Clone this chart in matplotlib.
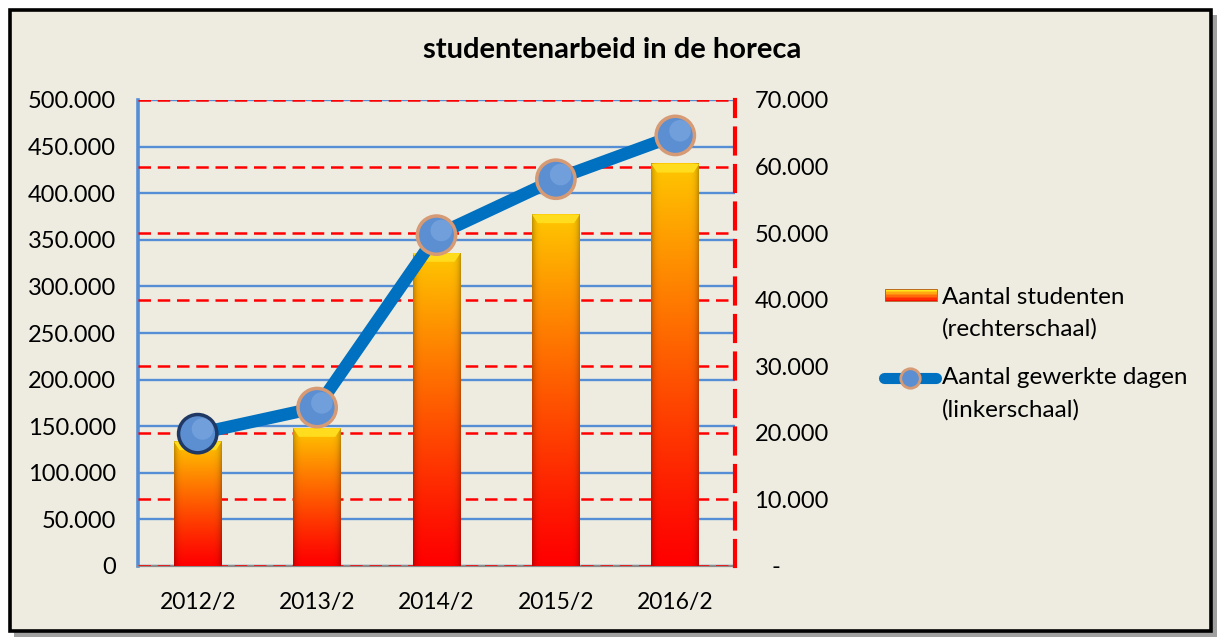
import numpy as np
import matplotlib.pyplot as plt
from matplotlib.patches import Rectangle, Polygon
from matplotlib.lines import Line2D

plt.rcParams["font.family"] = ["Lato", "DejaVu Sans"]

# data
periods = ["2012/2", "2013/2", "2014/2", "2015/2", "2016/2"]
students = [18700, 20700, 47000, 52800, 60400]        # right axis (bars)
days = [142000, 170000, 355000, 415000, 462000]        # left axis (line)
left_ticks = list(range(0, 500001, 50000))
right_ticks = list(range(0, 70001, 10000))

BG = "#EEECE1"
BLUE_GRID = "#558ED5"
LINE_BLUE = "#0070C0"
MARKER_FACE = "#5B8FD2"
COPPER = "#D69A74"
NAVY = "#1F3864"
FS = 17


def dot_fmt(v):
    return f"{v:,}".replace(",", ".")


fig = plt.figure(figsize=(12.2, 6.4), dpi=100)
fig.patch.set_facecolor("white")

# background canvas in pixel coordinates: frame, shadow and legend
bg = fig.add_axes([0, 0, 1, 1], zorder=0)
bg.set_xlim(0, 1220)
bg.set_ylim(640, 0)
bg.axis("off")
bg.add_patch(Rectangle((14, 15), 1203, 622, facecolor="#a0a0a0", edgecolor="none"))
bg.add_patch(Rectangle((9.5, 10), 1201.5, 621, facecolor=BG, edgecolor="black", lw=2.6))

# chart title
bg.text(612, 50, "studentenarbeid in de horeca", ha="center", va="center",
        fontsize=21, fontweight="bold")

rect = [138 / 1220, 74 / 640, 597 / 1220, 466 / 640]

# left axis: scale + blue gridlines
ax = fig.add_axes(rect, zorder=1)
ax.set_facecolor("none")
ax.set_xlim(-0.5, 4.5)
ax.set_ylim(0, 500000)
ax.set_yticks(left_ticks)
ax.set_yticklabels([dot_fmt(v) for v in left_ticks])
ax.set_xticks(range(len(periods)))
ax.set_xticklabels(periods)
ax.grid(axis="y", color=BLUE_GRID, lw=1.7)
ax.set_axisbelow(True)
for s in ["top", "right"]:
    ax.spines[s].set_visible(False)
ax.spines["left"].set_color(BLUE_GRID)
ax.spines["left"].set_linewidth(2.6)
ax.spines["bottom"].set_color("#8c8c8c")
ax.spines["bottom"].set_linewidth(1.6)
ax.tick_params(axis="y", length=0, pad=16, labelsize=FS)
ax.tick_params(axis="x", length=0, pad=19, labelsize=FS - 0.5)

# right axis: bars + red dashed gridlines
ax2 = ax.twinx()
ax2.set_ylim(0, 70000)
ax2.set_yticks(right_ticks)
ax2.set_yticklabels(["   -"] + [dot_fmt(v) for v in right_ticks[1:]])
ax2.grid(axis="y", color="#FF0000", lw=1.8, ls=(0, (5, 2.7)))
ax2.set_axisbelow(True)
for s in ["top", "left", "bottom"]:
    ax2.spines[s].set_visible(False)
ax2.spines["right"].set_color("#FF0000")
ax2.spines["right"].set_linewidth(3)
ax2.spines["right"].set_linestyle((0, (6, 3)))
ax2.tick_params(axis="y", length=0, pad=14, labelsize=FS)

bars = ax2.bar(range(len(periods)), students, width=0.4, color="none", zorder=2)

# vertical gradient (red bottom -> orange -> yellow top) with darker sides
t = np.linspace(0, 1, 200)[:, None]          # 0 bottom, 1 top
r = np.ones_like(t)
g = np.clip(0.78 * t ** 1.15, 0, 1)
b = np.zeros_like(t)
u = np.linspace(-1, 1, 60)[None, :]
shade = 1 - 0.25 * np.abs(u) ** 8
img = np.dstack([r * shade, g * shade, b * shade])[::-1]

for bar in bars:
    x0, w, h = bar.get_x(), bar.get_width(), bar.get_height()
    ax2.imshow(img, extent=[x0, x0 + w, 0, h], aspect="auto", zorder=2,
               interpolation="bilinear")
    dh = 1300
    dw = w * 0.12
    ax2.add_patch(Polygon([(x0, h), (x0 + w, h), (x0 + w - dw, h - dh), (x0 + dw, h - dh)],
                          closed=True, facecolor="#FFDD1E", edgecolor="none", zorder=3))
ax2.set_xlim(-0.5, 4.5)
ax2.set_ylim(0, 70000)

# top axis: the line with markers
ax3 = fig.add_axes(rect, sharex=ax, sharey=ax, zorder=3)
ax3.axis("off")
xs = np.arange(len(periods))
ax3.plot(xs, days, color=LINE_BLUE, lw=9, solid_capstyle="round", zorder=3)
edges = [NAVY] + [COPPER] * (len(periods) - 1)
ax3.scatter(xs, days, s=760, facecolor=MARKER_FACE, edgecolors=edges,
            linewidths=2.5, zorder=4)
ax3.scatter(xs + 0.04, np.array(days) + 5000, s=240, facecolor="#8DB4E6",
            edgecolors="none", alpha=0.45, zorder=5)

# legend
n = 8
for i in range(n):
    frac = i / (n - 1)
    col = (1.0, 0.85 * (1 - frac) + 0.05, 0.1 * (1 - frac))
    bg.add_patch(Rectangle((885, 289 + i * 12 / n), 52, 12 / n + 0.3,
                           facecolor=col, edgecolor="none"))
bg.add_patch(Rectangle((885, 289), 52, 12, facecolor="none",
                       edgecolor="#b05a20", lw=0.6))
bg.text(942, 297, "Aantal studenten", va="center", fontsize=FS + 0.5)
bg.text(942, 329, "(rechterschaal)", va="center", fontsize=FS + 0.5)
bg.add_line(Line2D([884, 936], [378, 378], color=LINE_BLUE, lw=8,
                   solid_capstyle="round"))
bg.add_line(Line2D([910], [378], marker="o", markersize=14,
                   markerfacecolor=MARKER_FACE, markeredgecolor=COPPER,
                   markeredgewidth=2))
bg.text(942, 378, "Aantal gewerkte dagen", va="center", fontsize=FS + 0.5)
bg.text(942, 410, "(linkerschaal)", va="center", fontsize=FS + 0.5)

fig.savefig("out.png", dpi=100, facecolor=fig.get_facecolor())
